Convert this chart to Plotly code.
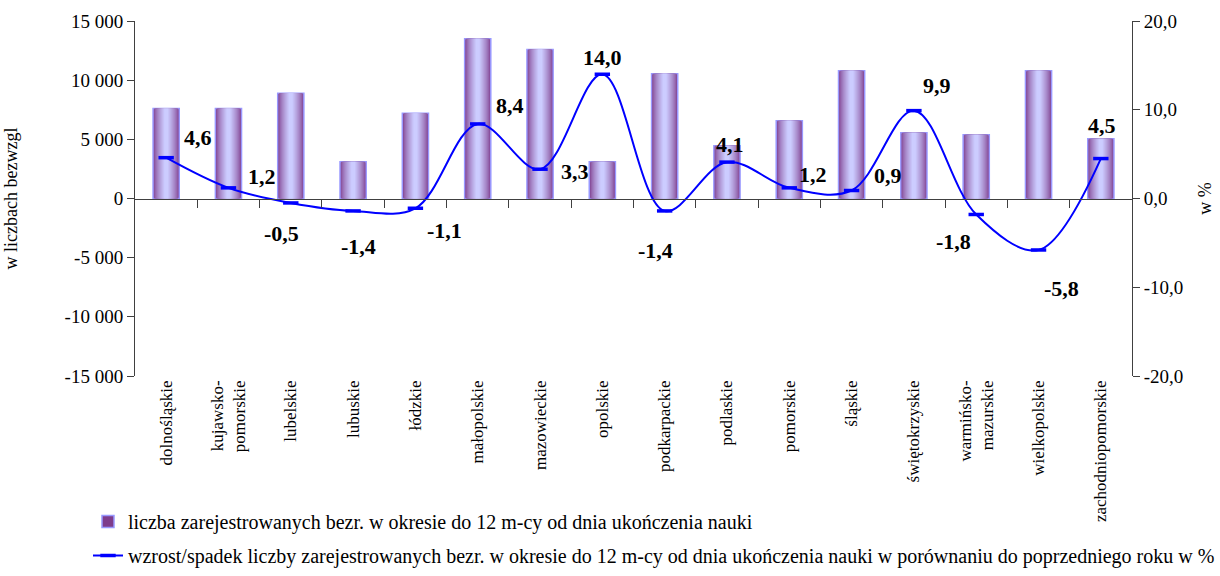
import plotly.graph_objects as go

categories = ["dolnośląskie", "kujawsko-<br>pomorskie", "lubelskie", "lubuskie", "łódzkie",
              "małopolskie", "mazowieckie", "opolskie", "podkarpackie", "podlaskie",
              "pomorskie", "śląskie", "świętokrzyskie", "warmińsko-<br>mazurskie",
              "wielkopolskie", "zachodniopomorskie"]
counts = [7600, 7600, 8900, 3100, 7200, 13500, 12600, 3100, 10550, 4450,
          6570, 10800, 5550, 5380, 10800, 5040]
change_pct = [4.6, 1.2, -0.5, -1.4, -1.1, 8.4, 3.3, 14.0, -1.4, 4.1,
              1.2, 0.9, 9.9, -1.8, -5.8, 4.5]

left_ticks = [-15000, -10000, -5000, 0, 5000, 10000, 15000]
left_ticktext = ["-15 000", "-10 000", "-5 000", "0", "5 000", "10 000", "15 000"]
right_ticks = [-20, -10, 0, 10, 20]
right_ticktext = ["-20,0", "-10,0", "0,0", "10,0", "20,0"]

bar_name = "liczba zarejestrowanych bezr. w okresie do 12 m-cy od dnia ukończenia nauki"
line_name = ("wzrost/spadek liczby zarejestrowanych bezr. w okresie do 12 m-cy od dnia "
             "ukończenia nauki w porównaniu do poprzedniego roku w %")

# label offsets in pixels (dx, dy)
label_dx = [32, 34, -9, 5, 29, 32, 35, 0, -9, 3, 24, 36, 23, -23, 23, 1]
label_dy = [20, 11, -31, -36, -22, 18, -2, 17, -40, 18, 13, 15, 25, -27, -39, 33]

FONT = "Liberation Serif"

W, H = 1220, 576
M_L, M_R, M_B = 135, 88, 200
PLOT_TOP = 21                      # pixel row of the top of the plot area
area_h = H - M_B                   # paper area height (top margin 0)
y_top = (area_h - PLOT_TOP) / area_h

fig = go.Figure()

# gradient bars built from overlaid layers
edge = (0x7E, 0x3C, 0x8C)
center = (0xCC, 0xCC, 0xFF)
n_layers = 12
w_outer = 0.42
for i in range(n_layers):
    t = i / (n_layers - 1)
    f = t ** 0.7
    col = tuple(int(round(edge[k] + (center[k] - edge[k]) * f)) for k in range(3))
    w = w_outer * (1 - t * 0.85) if i > 0 else w_outer
    fig.add_trace(go.Bar(
        x=categories, y=counts, width=w,
        marker=dict(color="rgb(%d,%d,%d)" % col,
                    line=dict(color="#9999FF" if i == 0 else "rgba(0,0,0,0)",
                              width=1.5 if i == 0 else 0)),
        name=bar_name, showlegend=(i == 0), legendgroup="g1",
        hoverinfo="skip" if i > 0 else None,
        yaxis="y", xaxis="x",
    ))

fig.add_trace(go.Scatter(
    x=categories, y=change_pct, mode="lines+markers",
    line=dict(color="#0000FF", width=2, shape="spline", smoothing=1.0),
    marker=dict(symbol="line-ew", size=11, line=dict(color="#0000FF", width=3.5)),
    name=line_name, legendgroup="g2", yaxis="y2", xaxis="x",
))

for i, (c, v) in enumerate(zip(categories, change_pct)):
    fig.add_annotation(
        x=c, y=v, xref="x", yref="y2", text="<b>" + ("%.1f" % v).replace(".", ",") + "</b>",
        showarrow=False, xshift=label_dx[i], yshift=label_dy[i],
        font=dict(family=FONT, size=22, color="black"),
    )

axis_color = "#404040"
fig.update_layout(
    width=W, height=H,
    margin=dict(l=M_L, r=M_R, t=0, b=M_B),
    paper_bgcolor="white", plot_bgcolor="white",
    barmode="overlay",
    font=dict(family=FONT, color="black"),
    xaxis=dict(type="category", categoryorder="array", categoryarray=categories,
               range=[-0.5, len(categories) - 0.5], showline=False, ticks="",
               tickangle=-90, tickfont=dict(size=17, family=FONT), showgrid=False,
               zeroline=False, automargin=False),
    xaxis2=dict(overlaying="x", anchor="free", position=y_top / 2,
                range=[-0.5, len(categories) - 0.5],
                tickvals=[i + 0.5 for i in range(len(categories) - 1)],
                showticklabels=False, ticks="outside", ticklen=8, tickcolor=axis_color,
                showline=True, linecolor=axis_color, linewidth=1, showgrid=False, zeroline=False,
                automargin=False),
    yaxis=dict(domain=[0, y_top], range=[-15000, 15000], tickvals=left_ticks, ticktext=left_ticktext,
               showline=True, linecolor=axis_color, linewidth=1, ticks="outside", ticklen=7,
               tickcolor=axis_color, showgrid=False, zeroline=False, automargin=False,
               tickfont=dict(size=19, family=FONT),
               title=dict(text="w liczbach bezwzgl", font=dict(size=18, family=FONT), standoff=42)),
    yaxis2=dict(range=[-20, 20], tickvals=right_ticks, ticktext=right_ticktext,
                overlaying="y", side="right", anchor="x", automargin=False,
                showline=True, linecolor=axis_color, linewidth=1, ticks="outside", ticklen=7,
                tickcolor=axis_color, showgrid=False, zeroline=False,
                tickfont=dict(size=19, family=FONT),
                title=dict(text="w %", font=dict(size=18, family=FONT), standoff=16)),
    legend=dict(x=-0.047, y=-(M_B - 1) / area_h, xanchor="left", yanchor="bottom",
                orientation="v", tracegroupgap=5, font=dict(size=20, family=FONT),
                bgcolor="rgba(0,0,0,0)"),
    showlegend=True,
)

# invisible trace to activate xaxis2
fig.add_trace(go.Scatter(x=[0], y=[0], xaxis="x2", yaxis="y", mode="markers",
                         marker=dict(opacity=0), showlegend=False, hoverinfo="skip"))

fig.write_html("out.html", config={"displayModeBar": False},
               post_script="document.body.style.margin='0';")
